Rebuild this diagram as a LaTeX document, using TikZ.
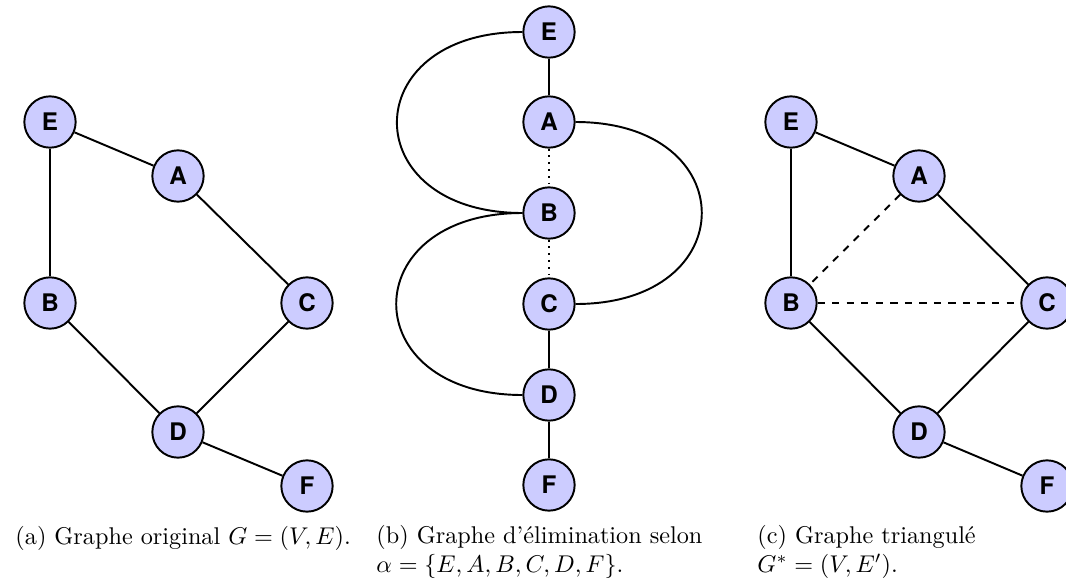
\documentclass[tikz,border=0pt]{standalone}
\usepackage{fontspec}
\newfontfamily\nodefont{TeX Gyre Heros}
\begin{document}
\begin{tikzpicture}[x=0.413pt,y=-0.413pt,
  vtx/.style={circle,draw,thick,fill=blue!20,inner sep=0pt,minimum size=21.2pt,font=\nodefont\bfseries},
  edge/.style={thick},
  elim/.style={thick,dotted},
  fillin/.style={thick,dashed},
  captext/.style={anchor=base west,inner sep=0pt}]
\useasboundingbox (0,0) rectangle (1066,584);
% (a)
\node[vtx] (aE) at (50,122) {E};
\node[vtx] (aA) at (178,176) {A};
\node[vtx] (aB) at (50,303) {B};
\node[vtx] (aC) at (307,303) {C};
\node[vtx] (aD) at (178,432) {D};
\node[vtx] (aF) at (307,486) {F};
\draw[edge] (aE) -- (aA);
\draw[edge] (aE) -- (aB);
\draw[edge] (aA) -- (aC);
\draw[edge] (aB) -- (aD);
\draw[edge] (aC) -- (aD);
\draw[edge] (aD) -- (aF);
\node[captext] (capa) at (15,544) {(a) Graphe original $G = (V, E)$.};
% (b)
\node[vtx] (bE) at (549,32) {E};
\node[vtx] (bA) at (549,122) {A};
\node[vtx] (bB) at (549,213) {B};
\node[vtx] (bC) at (549,304) {C};
\node[vtx] (bD) at (549,395) {D};
\node[vtx] (bF) at (549,485) {F};
\draw[edge] (bE) -- (bA);
\draw[elim] (bA) -- (bB);
\draw[elim] (bB) -- (bC);
\draw[edge] (bC) -- (bD);
\draw[edge] (bD) -- (bF);
\draw[edge] (bE.west) to[out=180,in=180,looseness=2.37] (bB.west);
\draw[edge] (bB.west) to[out=180,in=180,looseness=2.37] (bD.west);
\draw[edge] (bA.east) to[out=0,in=0,looseness=2.37] (bC.east);
\node[captext] (capb1) at (376,543) {(b) Graphe d’élimination selon};
\node[captext] (capb2) at (376,572) {$\alpha = \{E, A, B, C, D, F\}$.};
% (c)
\node[vtx] (cE) at (791,122) {E};
\node[vtx] (cA) at (919,176) {A};
\node[vtx] (cB) at (791,303) {B};
\node[vtx] (cC) at (1047,303) {C};
\node[vtx] (cD) at (919,432) {D};
\node[vtx] (cF) at (1047,486) {F};
\draw[edge] (cE) -- (cA);
\draw[edge] (cE) -- (cB);
\draw[edge] (cA) -- (cC);
\draw[fillin] (cA) -- (cB);
\draw[fillin] (cB) -- (cC);
\draw[edge] (cB) -- (cD);
\draw[edge] (cC) -- (cD);
\draw[edge] (cD) -- (cF);
\node[captext] (capc1) at (757,543) {(c) Graphe triangulé};
\node[captext] (capc2) at (757,572) {$G^* = (V, E')$.};
\end{tikzpicture}
\end{document}
